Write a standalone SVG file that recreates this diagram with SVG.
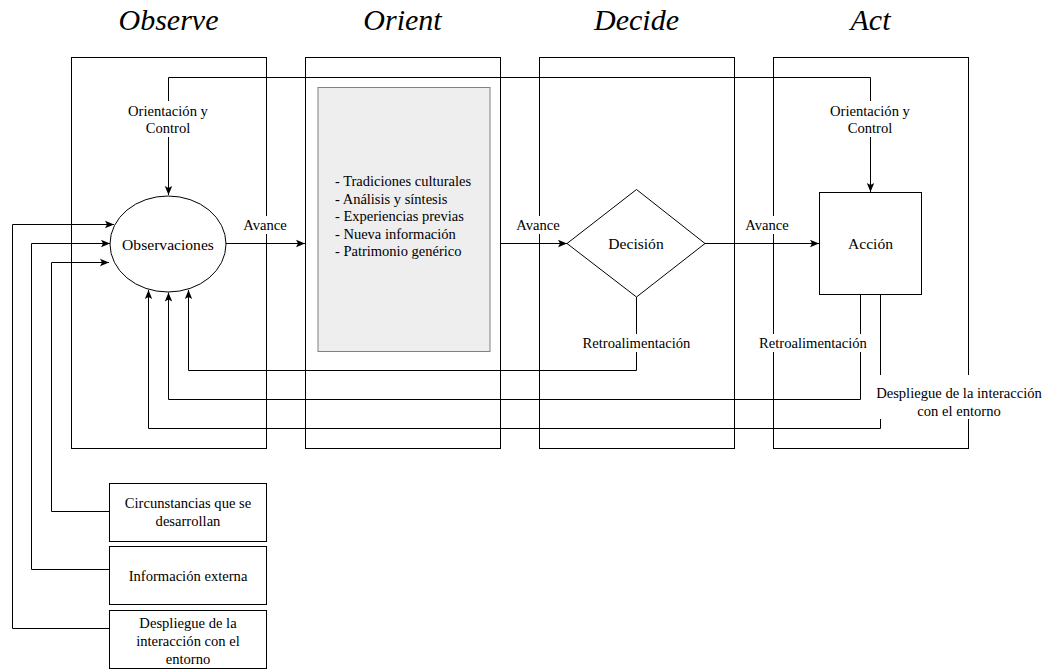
<svg xmlns="http://www.w3.org/2000/svg" width="1049" height="671" viewBox="0 0 1049 671">
  <style>
    .t { font-size: 14.6px; text-anchor: middle; dominant-baseline: central; }
    .tn { font-size: 15.6px; text-anchor: middle; dominant-baseline: central; }
    .tl { font-size: 14.5px; text-anchor: start; dominant-baseline: central; }
    .title { font-size: 30px; font-style: italic; text-anchor: middle; }
    .col { fill: none; stroke: #000; stroke-width: 1; }
    .node { fill: #fff; stroke: #000; stroke-width: 1; }
    .inner { fill: #eeeeee; stroke: #808080; stroke-width: 1; }
    .edge { fill: none; stroke: #000; stroke-width: 1; marker-end: url(#arr); }
    .bg { fill: #fff; stroke: none; }
  </style>
  <defs>
    <marker id="arr" markerUnits="userSpaceOnUse" markerWidth="10" markerHeight="10" viewBox="0 0 10 10" refX="10" refY="5" orient="auto">
      <path d="M1,1.3 L10,5 L1,8.7 L3,5 Z" fill="#000"/>
    </marker>
  </defs>

  <!-- phase titles -->
  <g id="titles">
    <text class="title" font-family="Liberation Serif, serif" x="168.5" y="30">Observe</text>
    <text class="title" font-family="Liberation Serif, serif" x="402.5" y="30">Orient</text>
    <text class="title" font-family="Liberation Serif, serif" x="636.5" y="30">Decide</text>
    <text class="title" font-family="Liberation Serif, serif" x="870.5" y="30">Act</text>
  </g>

  <!-- phase columns -->
  <g id="col-observe"><rect class="col" x="71.5" y="57.5" width="195" height="391"/></g>
  <g id="col-orient"><rect class="col" x="305.5" y="57.5" width="195" height="391"/></g>
  <g id="col-decide"><rect class="col" x="539.5" y="57.5" width="195" height="391"/></g>
  <g id="col-act"><rect class="col" x="773.5" y="57.5" width="195" height="391"/></g>

  <!-- connectors -->
  <g id="connectors">
    <path class="edge" d="M500,77.5 H168.5 V195"/>
    <path class="edge" d="M500,77.5 H870.5 V192"/>
    <path class="edge" d="M226,243.5 H305"/>
    <path class="edge" d="M500.5,243.5 H567"/>
    <path class="edge" d="M705,243.5 H819"/>
    <path class="edge" d="M636.5,297 V370.5 H188.5 V290"/>
    <path class="edge" d="M860.5,294.5 V399.5 H168.5 V292.5"/>
    <path class="edge" d="M880.5,294.5 V428.5 H148.5 V290"/>
    <path class="edge" d="M109.5,511.5 H51.5 V262.5 H109"/>
    <path class="edge" d="M109.5,569.5 H31.5 V243.5 H110"/>
    <path class="edge" d="M109.5,628.5 H12.5 V224.5 H114"/>
  </g>

  <!-- connector labels -->
  <g id="edge-labels">
    <rect class="bg" x="126" y="101" width="84" height="36"/>
    <text class="t" font-family="Liberation Serif, serif" x="168" y="111">Orientaci&#243;n y</text>
    <text class="t" font-family="Liberation Serif, serif" x="168" y="128">Control</text>
    <rect class="bg" x="828" y="101" width="84" height="36"/>
    <text class="t" font-family="Liberation Serif, serif" x="870" y="111">Orientaci&#243;n y</text>
    <text class="t" font-family="Liberation Serif, serif" x="870" y="128">Control</text>
    <rect class="bg" x="242" y="216" width="46" height="18"/>
    <text class="t" font-family="Liberation Serif, serif" x="265" y="225">Avance</text>
    <rect class="bg" x="515" y="216" width="46" height="18"/>
    <text class="t" font-family="Liberation Serif, serif" x="538" y="225">Avance</text>
    <rect class="bg" x="744" y="216" width="46" height="18"/>
    <text class="t" font-family="Liberation Serif, serif" x="767" y="225">Avance</text>
    <rect class="bg" x="582" y="334" width="109" height="18"/>
    <text class="t" font-family="Liberation Serif, serif" x="636.5" y="343">Retroalimentaci&#243;n</text>
    <rect class="bg" x="759" y="334" width="109" height="18"/>
    <text class="t" font-family="Liberation Serif, serif" x="813" y="343">Retroalimentaci&#243;n</text>
    <rect class="bg" x="876" y="375" width="167" height="44"/>
    <text class="t" font-family="Liberation Serif, serif" x="959" y="393">Despliegue de la interacci&#243;n</text>
    <text class="t" font-family="Liberation Serif, serif" x="959" y="411">con el entorno</text>
  </g>

  <!-- nodes -->
  <g id="observaciones">
    <ellipse class="node" cx="168" cy="244" rx="58" ry="48"/>
    <text class="tn" font-family="Liberation Serif, serif" x="168" y="244">Observaciones</text>
  </g>
  <g id="orient-factors">
    <rect class="inner" x="318" y="87.5" width="172" height="264"/>
    <text class="tl" font-family="Liberation Serif, serif" x="335" y="181">- Tradiciones culturales</text>
    <text class="tl" font-family="Liberation Serif, serif" x="335" y="198.5">- An&#225;lisis y s&#237;ntesis</text>
    <text class="tl" font-family="Liberation Serif, serif" x="335" y="216">- Experiencias previas</text>
    <text class="tl" font-family="Liberation Serif, serif" x="335" y="233.5">- Nueva informaci&#243;n</text>
    <text class="tl" font-family="Liberation Serif, serif" x="335" y="251">- Patrimonio gen&#233;rico</text>
  </g>
  <g id="decision">
    <polygon class="node" points="567,243.5 636.5,189.5 705,243.5 636.5,297"/>
    <text class="tn" font-family="Liberation Serif, serif" x="636" y="243">Decisi&#243;n</text>
  </g>
  <g id="accion">
    <rect class="node" x="819.5" y="192.5" width="102" height="102"/>
    <text class="tn" font-family="Liberation Serif, serif" x="870.5" y="243">Acci&#243;n</text>
  </g>
  <g id="circunstancias">
    <rect class="node" x="109.5" y="483.5" width="157" height="58"/>
    <text class="t" font-family="Liberation Serif, serif" x="188" y="503">Circunstancias que se</text>
    <text class="t" font-family="Liberation Serif, serif" x="188" y="521">desarrollan</text>
  </g>
  <g id="informacion-externa">
    <rect class="node" x="109.5" y="546.5" width="157" height="58"/>
    <text class="t" font-family="Liberation Serif, serif" x="188" y="576">Informaci&#243;n externa</text>
  </g>
  <g id="despliegue">
    <rect class="node" x="109.5" y="610.5" width="157" height="58"/>
    <text class="t" font-family="Liberation Serif, serif" x="188" y="623">Despliegue de la</text>
    <text class="t" font-family="Liberation Serif, serif" x="188" y="641">interacci&#243;n con el</text>
    <text class="t" font-family="Liberation Serif, serif" x="188" y="659">entorno</text>
  </g>
</svg>
